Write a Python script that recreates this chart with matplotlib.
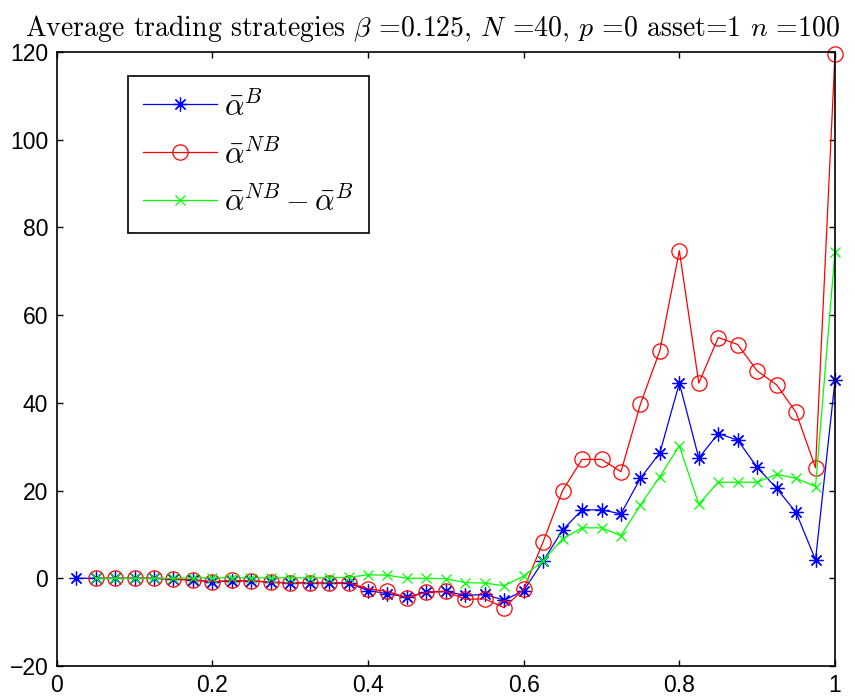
import numpy as np
import matplotlib
matplotlib.use("Agg")
import matplotlib.pyplot as plt

# Grid of the strategy parameter (40 steps of 0.025)
x = np.arange(1, 41) * 0.025

# Average trading strategy, bounded case
alpha_b = [0, 0, 0, 0, 0, -0.2, -0.4, -0.8, -0.6, -0.6,
           -0.9, -1.1, -1.0, -1.1, -1.1, -2.8, -3.5, -4.3, -3.1, -3.0,
           -3.9, -3.7, -5.0, -2.8, 3.9, 11.0, 15.6, 15.6, 14.7, 22.8,
           28.6, 44.5, 27.4, 33.0, 31.5, 25.3, 20.5, 15.0, 4.2, 45.1]

# Average trading strategy, non-bounded case
alpha_nb = [np.nan, 0, 0, 0, 0, -0.2, -0.4, -0.8, -0.5, -0.6,
            -0.9, -1.1, -1.0, -1.0, -1.0, -2.4, -3.0, -4.4, -3.2, -3.0,
            -4.8, -4.7, -6.7, -2.5, 8.3, 20.0, 27.1, 27.1, 24.3, 39.7,
            51.9, 74.7, 44.5, 54.9, 53.3, 47.3, 44.1, 37.8, 25.2, 119.5]

# Difference between the two
alpha_diff = [np.nan, 0, 0, 0, 0, 0, 0.1, 0.1, 0.1, 0.1,
              0.1, 0.1, 0.1, 0.1, 0.2, 0.8, 0.7, 0.0, 0.0, -0.1,
              -1.0, -1.1, -1.7, 0.5, 4.0, 9.0, 11.5, 11.5, 9.7, 16.7,
              23.2, 30.2, 16.9, 21.9, 21.9, 21.9, 23.7, 22.8, 20.9, 74.5]

xticks = [0, 0.2, 0.4, 0.6, 0.8, 1]
xticklabels = ["0", "0.2", "0.4", "0.6", "0.8", "1"]
yticks = [-20, 0, 20, 40, 60, 80, 100, 120]

plt.rcParams["mathtext.fontset"] = "cm"
plt.rcParams["font.family"] = ["Liberation Sans", "DejaVu Sans"]
plt.rcParams["axes.unicode_minus"] = True

fig = plt.figure(figsize=(8.55, 7.0), dpi=100)
ax = fig.add_axes([0.0663, 0.0486, 0.9103, 0.8771])

asterisk = (8, 2, 0)
ax.plot(x, alpha_b, color=(0, 0, 1), lw=0.9, marker=asterisk, ms=10, mew=0.9,
        label=r"$\bar{\alpha}^{B}$", clip_on=False)
ax.plot(x, alpha_nb, color=(1, 0, 0), lw=0.9, marker="o", ms=11, mew=0.9,
        mfc="none", label=r"$\bar{\alpha}^{NB}$", clip_on=False)
ax.plot(x, alpha_diff, color=(0, 1, 0), lw=0.9, marker="x", ms=7.5, mew=0.9,
        label=r"$\bar{\alpha}^{NB} - \bar{\alpha}^{B}$", clip_on=False)

ax.set_xlim(0, 1)
ax.set_ylim(-20, 120)
ax.set_xticks(xticks)
ax.set_xticklabels(xticklabels)
ax.set_yticks(yticks)
ax.tick_params(direction="in", length=4, width=1, top=True, right=True,
               labelsize=16.5, pad=6)
for s in ax.spines.values():
    s.set_linewidth(1.2)

fig.text(0.5064, 0.9486,
         r"Average trading strategies $\beta$ =0.125, $N$ =40, $p$ =0 asset=1 $n$ =100",
         fontsize=20, family="cmr10", ha="center", va="baseline")

leg = ax.legend(loc="upper left", bbox_to_anchor=(0.0917, 0.961), fontsize=22,
                fancybox=False, framealpha=1, edgecolor="black",
                handlelength=2.4, labelspacing=0.55, borderpad=0.5,
                handletextpad=0.25, borderaxespad=0)
leg.get_frame().set_linewidth(1.2)

fig.savefig("out.png", dpi=100)
